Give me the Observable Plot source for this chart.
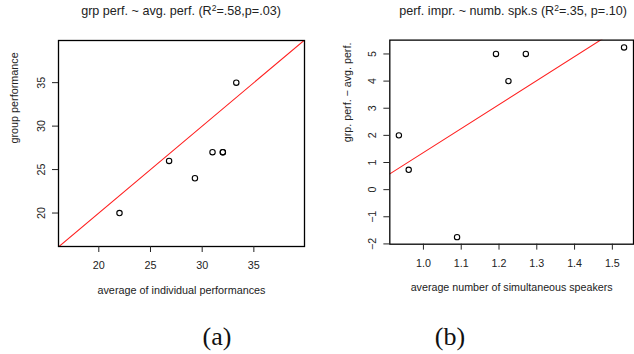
<!DOCTYPE html>
<html>
<head>
<meta charset="utf-8">
<script src="https://cdn.jsdelivr.net/npm/d3@7"></script>
<script src="https://cdn.jsdelivr.net/npm/@observablehq/plot@0.6"></script>
<style>
  html, body { margin: 0; padding: 0; background: #fff; overflow: hidden; }
  #wrap { position: relative; width: 634px; height: 354px; overflow: hidden; font-family: "Liberation Sans", Arial, sans-serif; }
  .panel { position: absolute; top: 0; }
  .title { position: absolute; top: 4px; font-size: 12.6px; color: #222; white-space: nowrap; transform: translateX(-50%); }
  .title sup { font-size: 8.5px; vertical-align: 0; position: relative; top: -4.5px; }
  .cap { position: absolute; top: 322px; font-family: "Liberation Serif", "DejaVu Serif", serif; font-size: 26px; color: #111; transform: translateX(-50%); }
</style>
</head>
<body>
<div id="wrap">
  <div class="panel" id="pa" style="left:0px"></div>
  <div class="panel" id="pb" style="left:317px"></div>
  <div class="title" style="left:181px">grp perf. ~ avg. perf. (R<sup>2</sup>=.58,p=.03)</div>
  <div class="title" style="left:513px">perf. impr. ~ numb. spk.s (R<sup>2</sup>=.35, p=.10)</div>
  <div class="cap" style="left:217px">(a)</div>
  <div class="cap" style="left:450px">(b)</div>
</div>
<script>
// ---- Panel (a) data ----
const avgPerf = [22, 26.8, 29.3, 31, 32, 32, 33.3];
const grpPerf = [20, 26, 24, 27, 27, 27, 35];
const refLineA = [0, 1]; // intercept, slope (y = x)
const xTicksA = [20, 25, 30, 35];
const yTicksA = [20, 25, 30, 35];
const xDomainA = [16.1, 39.9];
const yDomainA = [16.15, 39.85];

// ---- Panel (b) data ----
const numSpeakers = [0.935, 0.961, 1.089, 1.192, 1.225, 1.271, 1.531];
const perfImpr = [2, 0.73, -1.75, 5, 4, 5, 5.24];
const xTicksB = [1.0, 1.1, 1.2, 1.3, 1.4, 1.5];
const yTicksB = [-2, -1, 0, 1, 2, 3, 4, 5];
const xDomainB = [0.911, 1.556];
const yDomainB = [-2.01, 5.51];

function fit(xs, ys) {
  const mx = d3.mean(xs), my = d3.mean(ys);
  const sxy = d3.sum(xs, (x, i) => (x - mx) * (ys[i] - my));
  const sxx = d3.sum(xs, x => (x - mx) ** 2);
  const b = sxy / sxx;
  return [my - b * mx, b];
}

function panel({xs, ys, line, xDomain, yDomain, xTicks, yTicks, width, height, ml, mr, mt, mb, xLabel, yLabel, yLabelDx, fmt}) {
  const pts = xs.map((x, i) => ({x, y: ys[i]}));
  const ln = xDomain.map(x => ({x, y: line[0] + line[1] * x}));
  return Plot.plot({
    width, height,
    marginLeft: ml, marginRight: mr, marginTop: mt, marginBottom: mb,
    style: {fontFamily: "Liberation Sans, Arial, sans-serif", fontSize: "10.8px", color: "#222", overflow: "visible"},
    x: {domain: xDomain, label: null},
    y: {domain: yDomain, label: null},
    marks: [
      Plot.line(ln, {x: "x", y: "y", stroke: "#ff2020", strokeWidth: 1.1, clip: true}),
      Plot.dot(pts, {x: "x", y: "y", r: 2.7, stroke: "#000", strokeWidth: 1.1, fill: "none"}),
      Plot.frame({stroke: "#000", strokeWidth: 1.3}),
      Plot.axisX({ticks: xTicks, tickSize: 6, tickPadding: 9, tickFormat: fmt, label: null, fontSize: 10.8}),
      Plot.axisY({ticks: yTicks, tickSize: 6, tickPadding: 8, tickRotate: -90, tickFormat: d => d < 0 ? "\u2212" + Math.abs(d) : String(d), label: null, fontSize: 10.8}),
      Plot.text([xLabel], {frameAnchor: "bottom", dy: 47, text: d => d, fontSize: 10.8, fill: "#222"}),
      Plot.text([yLabel], {frameAnchor: "left", dx: yLabelDx, rotate: -90, text: d => d, fontSize: 10.8, fill: "#222"})
    ]
  });
}

document.getElementById("pa").appendChild(panel({
  xs: avgPerf, ys: grpPerf, line: refLineA,
  xDomain: xDomainA, yDomain: yDomainA, xTicks: xTicksA, yTicks: yTicksA,
  width: 317, height: 300, ml: 58, mr: 13, mt: 40, mb: 54,
  xLabel: "average of individual performances", yLabel: "group performance", yLabelDx: -44,
  fmt: d => String(d)
}));

document.getElementById("pb").appendChild(panel({
  xs: numSpeakers, ys: perfImpr, line: fit(numSpeakers, perfImpr),
  xDomain: xDomainB, yDomain: yDomainB, xTicks: xTicksB, yTicks: yTicksB,
  width: 320, height: 300, ml: 73, mr: 1, mt: 40, mb: 54,
  xLabel: "average number of simultaneous speakers", yLabel: "grp. perf. \u2212 avg. perf.", yLabelDx: -43,
  fmt: d3.format(".1f")
}));
</script>
</body>
</html>
